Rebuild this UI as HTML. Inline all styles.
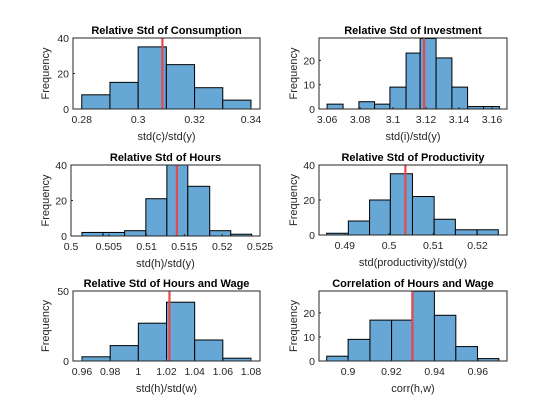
<!DOCTYPE html>
<html><head><meta charset="utf-8"><style>
body{margin:0;background:#fff;}
svg{display:block;font-family:"Liberation Sans",Arial,sans-serif;}
</style></head><body>
<svg id="fig" width="560" height="420"></svg>
<script>
// Panel 1: consumption
const p1Edges=[0.28,0.29,0.30,0.31,0.32,0.33,0.34];
const p1Counts=[8,15,35,25,12,5];
const p1Mean=0.3086;
const p1XTicks=[0.28,0.3,0.32,0.34];
const p1XTickLabels=["0.28","0.3","0.32","0.34"];
const p1YTicks=[0,20,40];
// Panel 2: investment
const p2Edges=[3.0600,3.0697,3.0793,3.0888,3.0981,3.1079,3.1164,3.1261,3.1357,3.1452,3.1549,3.1645];
const p2Counts=[2,0,3,2,9,23,29,21,9,1,1];
const p2Mean=3.1188;
const p2XTicks=[3.06,3.08,3.1,3.12,3.14,3.16];
const p2XTickLabels=["3.06","3.08","3.1","3.12","3.14","3.16"];
const p2YTicks=[0,10,20];
// Panel 3: hours
const p3Edges=[0.50145,0.50423,0.50709,0.5099,0.51268,0.51545,0.51835,0.52113,0.5239];
const p3Counts=[2,2,3,21,41,28,3,1];
const p3Mean=0.5140;
const p3XTicks=[0.5,0.505,0.51,0.515,0.52,0.525];
const p3XTickLabels=["0.5","0.505","0.51","0.515","0.52","0.525"];
const p3YTicks=[0,20,40];
// Panel 4: productivity
const p4Edges=[0.4859,0.4908,0.4956,0.5003,0.5053,0.5102,0.5150,0.5199,0.5247];
const p4Counts=[1,8,20,35,22,9,3,3];
const p4Mean=0.5037;
const p4XTicks=[0.49,0.5,0.51,0.52];
const p4XTickLabels=["0.49","0.5","0.51","0.52"];
const p4YTicks=[0,20,40];
// Panel 5: hours / wage
const p5Edges=[0.96,0.98,1.0,1.02,1.04,1.06,1.08];
const p5Counts=[3,11,27,42,15,2];
const p5Mean=1.0221;
const p5XTicks=[0.96,0.98,1,1.02,1.04,1.06,1.08];
const p5XTickLabels=["0.96","0.98","1","1.02","1.04","1.06","1.08"];
const p5YTicks=[0,50];
// Panel 6: correlation
const p6Edges=[0.8901,0.9,0.9101,0.9201,0.9299,0.9399,0.9498,0.9598,0.9697];
const p6Counts=[2,9,17,17,29,19,6,1];
const p6Mean=0.9297;
const p6XTicks=[0.9,0.92,0.94,0.96];
const p6XTickLabels=["0.9","0.92","0.94","0.96"];
const p6YTicks=[0,10,20];

const panels=[
 {name:"consumption",title:"Relative Std of Consumption",xlabel:"std(c)/std(y)",box:[73,38,260,109],xlim:[0.2769,0.3432],ylim:[0,40],e:p1Edges,c:p1Counts,m:p1Mean,xt:p1XTicks,xl:p1XTickLabels,yt:p1YTicks,ylx:45},
 {name:"investment",title:"Relative Std of Investment",xlabel:"std(i)/std(y)",box:[319,38,507,109],xlim:[3.0551,3.1691],ylim:[0,29.2],e:p2Edges,c:p2Counts,m:p2Mean,xt:p2XTicks,xl:p2XTickLabels,yt:p2YTicks,ylx:293},
 {name:"hours",title:"Relative Std of Hours",xlabel:"std(h)/std(y)",box:[71,165,260,236],xlim:[0.5,0.525],ylim:[0,40],e:p3Edges,c:p3Counts,m:p3Mean,xt:p3XTicks,xl:p3XTickLabels,yt:p3YTicks,ylx:45},
 {name:"productivity",title:"Relative Std of Productivity",xlabel:"std(productivity)/std(y)",box:[319,165,507,235],xlim:[0.48417,0.52667],ylim:[0,40],e:p4Edges,c:p4Counts,m:p4Mean,xt:p4XTicks,xl:p4XTickLabels,yt:p4YTicks,ylx:293},
 {name:"hours-wage",title:"Relative Std of Hours and Wage",xlabel:"std(h)/std(w)",box:[73,291,260,361],xlim:[0.9536,1.0864],ylim:[0,50],e:p5Edges,c:p5Counts,m:p5Mean,xt:p5XTicks,xl:p5XTickLabels,yt:p5YTicks,ylx:45},
 {name:"correlation",title:"Correlation of Hours and Wage",xlabel:"corr(h,w)",box:[319,291,507,361],xlim:[0.88655,0.97345],ylim:[0,29.1],e:p6Edges,c:p6Counts,m:p6Mean,xt:p6XTicks,xl:p6XTickLabels,yt:p6YTicks,ylx:293}
];
const NS="http://www.w3.org/2000/svg";
const svg=document.getElementById("fig");
function mk(tag,attrs,parent){const el=document.createElementNS(NS,tag);for(const k in attrs)el.setAttribute(k,attrs[k]);parent.appendChild(el);return el;}
panels.forEach((p,i)=>{
  const [x0,y0,x1,y1]=p.box;
  const sx=v=>x0+(v-p.xlim[0])/(p.xlim[1]-p.xlim[0])*(x1-x0);
  const sy=v=>y1-(v-p.ylim[0])/(p.ylim[1]-p.ylim[0])*(y1-y0);
  const g=mk("g",{},svg);
  
  
  const cid="clip"+i;
  const cp=mk("clipPath",{id:cid},g);
  mk("rect",{x:x0,y:y0,width:x1-x0,height:y1-y0},cp);
  mk("rect",{x:x0,y:y0,width:x1-x0,height:y1-y0,fill:"#fff"},g);
  const bars=mk("g",{"clip-path":"url(#"+cid+")"},g);
  p.c.forEach((cnt,j)=>{
    if(cnt<=0)return;
    const r=mk("rect",{x:sx(p.e[j]),y:sy(cnt),width:sx(p.e[j+1])-sx(p.e[j]),height:sy(0)-sy(cnt),fill:"#66a7d6",stroke:"#000","stroke-width":1},bars);
    
    
  });
  const ml=mk("line",{x1:sx(p.m),x2:sx(p.m),y1:y0,y2:y1,stroke:"#e8474c","stroke-width":2.2},bars);
  
  
  mk("rect",{x:x0,y:y0,width:x1-x0,height:y1-y0,fill:"none",stroke:"#262626","stroke-width":1},g);
  p.xt.forEach((t,j)=>{
    const x=sx(t);
    mk("line",{x1:x,x2:x,y1:y1,y2:y1-2,stroke:"#262626"},g);
    const tx=mk("text",{x:x,y:y1+14,"font-size":10.5,fill:"#262626","text-anchor":"middle"},g);
    tx.textContent=p.xl[j];
    
    
  });
  p.yt.forEach(t=>{
    const y=sy(t);
    mk("line",{x1:x0,x2:x0+2,y1:y,y2:y,stroke:"#262626"},g);
    const ty=mk("text",{x:x0-4,y:y+4,"font-size":10.5,fill:"#262626","text-anchor":"end"},g);
    ty.textContent=String(t);
    
    
  });
  const tt=mk("text",{x:(x0+x1)/2,y:y0-4,"font-size":11,"font-weight":"bold",fill:"#000","text-anchor":"middle"},g);
  tt.textContent=p.title;
  
  
  const xl=mk("text",{x:(x0+x1)/2,y:y1+31,"font-size":11,fill:"#262626","text-anchor":"middle"},g);
  xl.textContent=p.xlabel;
  
  
  const yc=(y0+y1)/2;
  const yl=mk("text",{x:p.ylx,y:yc,"font-size":11,fill:"#262626","text-anchor":"middle",transform:"rotate(-90 "+p.ylx+" "+yc+")",dy:"4"},g);
  yl.textContent="Frequency";
  
  
});
</script>
</body></html>
